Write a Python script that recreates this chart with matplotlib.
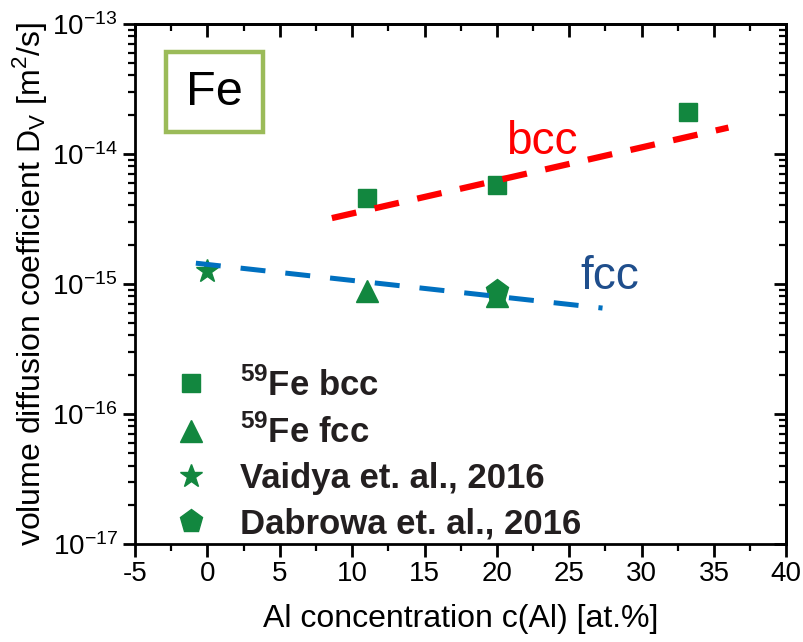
import numpy as np
import matplotlib.pyplot as plt
from matplotlib.patches import FancyBboxPatch
from matplotlib.ticker import LogLocator, NullFormatter

plt.rcParams['font.family'] = ['Liberation Sans', 'DejaVu Sans']
plt.rcParams['mathtext.fontset'] = 'custom'
plt.rcParams['mathtext.rm'] = 'Liberation Sans'
plt.rcParams['mathtext.bf'] = 'Liberation Sans:bold'
plt.rcParams['axes.unicode_minus'] = False

# data
bcc_x = [11, 20, 33.2]
bcc_D = [4.6e-15, 5.8e-15, 2.1e-14]
fcc_x = [11, 20]
fcc_D = [8.8e-16, 8.0e-16]
vaidya_x = [0]
vaidya_D = [1.25e-15]
dabrowa_x = [20]
dabrowa_D = [8.8e-16]
bcc_fit_x = [8.6, 36]
bcc_fit_D = [3.2e-15, 1.59e-14]
fcc_fit_x = [-0.8, 27.3]
fcc_fit_D = [1.44e-15, 6.5e-16]
y_major = [1e-17, 1e-16, 1e-15, 1e-14, 1e-13]

green = '#12873f'

fig = plt.figure(figsize=(8.04, 6.42), dpi=100)
ax = fig.add_axes([0.168, 0.153, 0.81, 0.81])

ax.plot(bcc_fit_x, bcc_fit_D, color='#ff0000', lw=4.5, dashes=(4, 3), zorder=3)
ax.plot(fcc_fit_x, fcc_fit_D, color='#0070c0', lw=3.6, dashes=(5, 4), zorder=3)

ax.plot(bcc_x, bcc_D, 's', color=green, ms=13.5, ls='none', label=r'$^{\mathbf{59}}$Fe bcc', zorder=2)
ax.plot(fcc_x, fcc_D, '^', color=green, ms=16, ls='none', label=r'$^{\mathbf{59}}$Fe fcc', zorder=2)
ax.plot(vaidya_x, vaidya_D, '*', color=green, ms=17, ls='none', label='Vaidya et. al., 2016', zorder=2)
ax.plot(dabrowa_x, dabrowa_D, 'p', color=green, ms=17, ls='none', label='Dabrowa et. al., 2016', zorder=2)

ax.set_yscale('log')
ax.set_xlim(-5, 40)
ax.set_ylim(1e-17, 1e-13)
ax.set_xticks(np.arange(-5, 41, 5))
ax.set_xticks(np.arange(-2.5, 40, 5), minor=True)
ax.set_yticks(y_major)
ax.yaxis.set_minor_locator(LogLocator(base=10, subs=np.arange(2, 10)))
ax.yaxis.set_minor_formatter(NullFormatter())

ax.tick_params(axis='both', which='major', labelsize=20, width=2, length=9)
ax.tick_params(axis='both', which='minor', width=1.6, length=5)
ax.tick_params(axis='x', which='both', direction='out', top=False)
ax.tick_params(axis='y', which='both', direction='out', right=False)

# mirrored ticks pointing inward on top and right
sec = ax.secondary_xaxis('top')
sec.set_xticks(np.arange(-5, 41, 5))
sec.set_xticks(np.arange(-2.5, 40, 5), minor=True)
sec.tick_params(which='major', direction='in', length=9, width=2, labeltop=False)
sec.tick_params(which='minor', direction='in', length=5, width=1.6)
secy = ax.secondary_yaxis('right')
secy.set_yscale('log')
secy.set_yticks(y_major)
secy.yaxis.set_minor_locator(LogLocator(base=10, subs=np.arange(2, 10)))
secy.tick_params(which='major', direction='in', length=9, width=2, labelright=False)
secy.tick_params(which='minor', direction='in', length=5, width=1.6)
for s in list(ax.spines.values()):
    s.set_linewidth(2)
sec.spines['top'].set_linewidth(2)
secy.spines['right'].set_linewidth(2)

ax.set_xlabel('Al concentration c(Al) [at.%]', fontsize=23, labelpad=12)
ax.set_ylabel(r'volume diffusion coefficient D$_\mathrm{V}$ [m$^2$/s]', fontsize=23, labelpad=2)

ax.text(20.6, 9.9e-15, 'bcc', color='#ff0000', fontsize=33)
ax.text(25.8, 9.1e-16, 'fcc', color='#1f4e8c', fontsize=33)

box = FancyBboxPatch((0.048, 0.792), 0.149, 0.154, boxstyle='square,pad=0',
                     transform=ax.transAxes, fill=False, ec='#9bbb59', lw=3.2)
ax.add_patch(box)
ax.text(0.122, 0.867, 'Fe', transform=ax.transAxes, fontsize=35, ha='center', va='center')

leg = ax.legend(loc='lower left', bbox_to_anchor=(0.054, 0.0), frameon=False, numpoints=1,
                prop={'size': 25, 'weight': 'bold'}, handlelength=1.0, handletextpad=0.9,
                labelspacing=0.35, borderaxespad=0.0, borderpad=0.1)
for t in leg.get_texts():
    t.set_color('#231f20')

fig.savefig('out.png', dpi=100)
